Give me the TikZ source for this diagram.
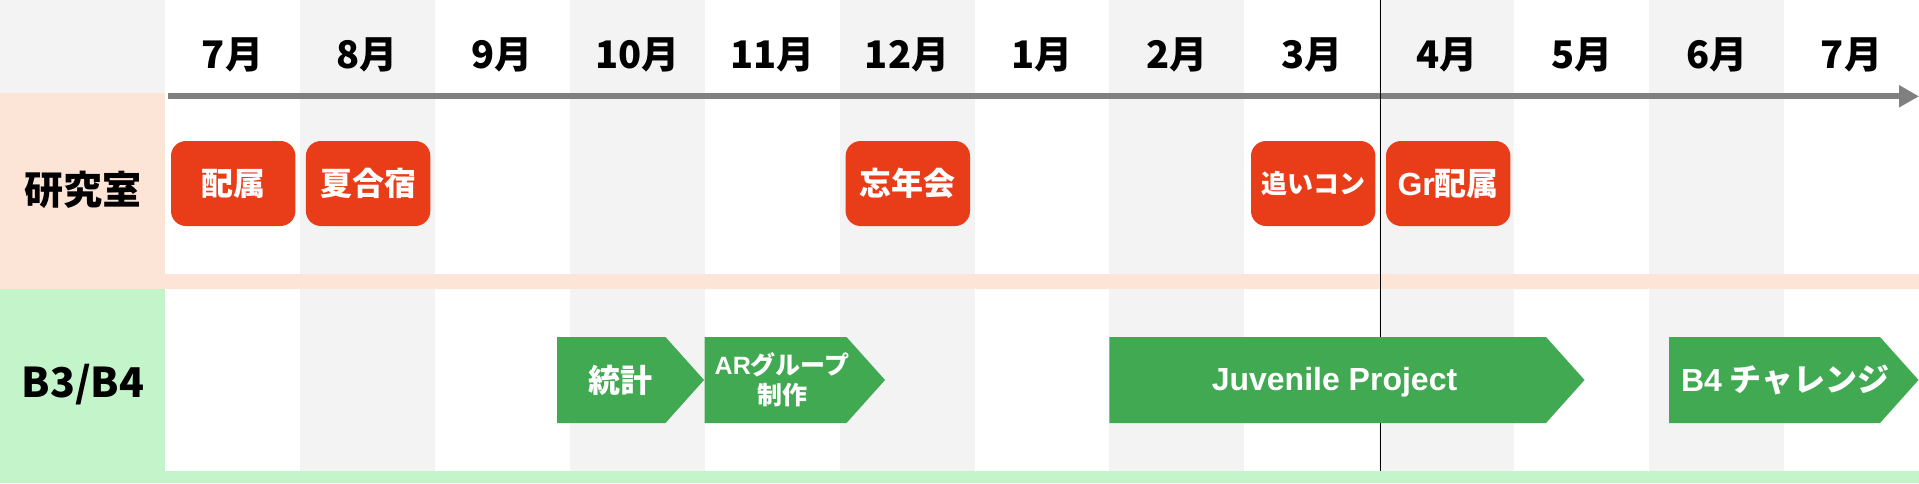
\documentclass[tikz,border=0pt]{standalone}
\usepackage{fontspec}
\setmainfont{Noto Sans CJK JP}
\newfontfamily\arialfont{Liberation Sans}
\usetikzlibrary{arrows.meta}
\definecolor{redbox}{RGB}{233,61,26}
\definecolor{greenbox}{RGB}{65,169,82}
\definecolor{pinkbg}{RGB}{252,228,214}
\definecolor{greenbg}{RGB}{196,245,202}
\definecolor{graycol}{RGB}{243,243,243}
\definecolor{axisgray}{RGB}{128,128,128}
\newcommand\homeplate[2]{\fill[greenbox] (#1,337) -- (#2,337) -- ({#2+38.5},380) -- (#2,423) -- (#1,423) -- cycle;}
\newcommand\lat[1]{{\arialfont\bfseries #1}}
\tikzset{
  monthlbl/.style={font=\bfseries\fontsize{38}{42}\selectfont, text=black, inner sep=0pt},
  lanelbl/.style={font=\bfseries\fontsize{39}{44}\selectfont, text=black, inner sep=0pt},
  redev/.style={fill=redbox, rounded corners=15pt, minimum width=124.4pt, minimum height=85pt,
    inner sep=0pt, text=white, font=\bfseries\fontsize{32}{36}\selectfont},
  greentxt/.style={text=white, inner sep=0pt, align=center, font=\bfseries\fontsize{32}{36}\selectfont},
}
\begin{document}
\begin{tikzpicture}[x=1pt,y=-1pt]
\useasboundingbox (0,0) rectangle (1919,483);
\fill[white] (0,0) rectangle (1919,483);
% column stripes
\foreach \i in {1,3,5,7,9,11}
  \fill[graycol] ({165+\i*134.923},0) rectangle ({165+(\i+1)*134.923},471);
% left header cells and lane stripes
\fill[graycol] (0,0) rectangle (165,93);
\fill[pinkbg] (0,93) rectangle (165,289);
\fill[pinkbg] (165,274) rectangle (1919,289);
\fill[greenbg] (0,289) rectangle (165,483);
\fill[greenbg] (165,471) rectangle (1919,483);
% month labels
\foreach \m [count=\k from 0] in {7,8,9,10,11,12,1,2,3,4,5,6,7}
  \node[monthlbl] (m\k) at ({165+(\k+0.5)*134.923},55) {\m 月};
% time axis
\coordinate (axS) at (168,96.3);
\coordinate (axE) at (1919,96.3);
\draw[axisgray, line width=6pt, -{Triangle[length=20pt,width=21pt]}] (axS) -- (axE);
% now line
\coordinate (nowT) at (1380.5,0);
\coordinate (nowB) at (1380.5,471);
\draw[black, line width=1.8pt] (nowT) -- (nowB);
% lane labels
\node[lanelbl] (lab) at (82.5,190) {研究室};
\node[lanelbl, font=\bfseries\fontsize{41}{44}\selectfont] (lbb) at (83,385) {B3/B4};
% red events
\node[redev] (e1) at (233.2,183.5) {配属};
\node[redev] (e2) at (368.1,183.5) {夏合宿};
\node[redev] (e3) at (907.8,183.5) {忘年会};
\node[redev, font=\bfseries\fontsize{26}{30}\selectfont] (e4) at (1313.2,183.5) {追いコン};
\node[redev] (e5) at (1448.2,183.5) {\lat{Gr}配属};
% green periods
\homeplate{557}{665.5}
\homeplate{704.6}{846.5}
\homeplate{1109.3}{1546}
\homeplate{1669}{1880}
\node[greentxt] (g1) at (620.8,380) {統計};
\node[greentxt, font=\bfseries\fontsize{25}{30}\selectfont] (g2) at (782,380) {\lat{AR}グループ\\制作};
\node[greentxt] (g3) at (1334.5,382) {\lat{Juvenile Project}};
\node[greentxt] (g4) at (1785,380) {\lat{B4} チャレンジ};
\end{tikzpicture}
\end{document}
